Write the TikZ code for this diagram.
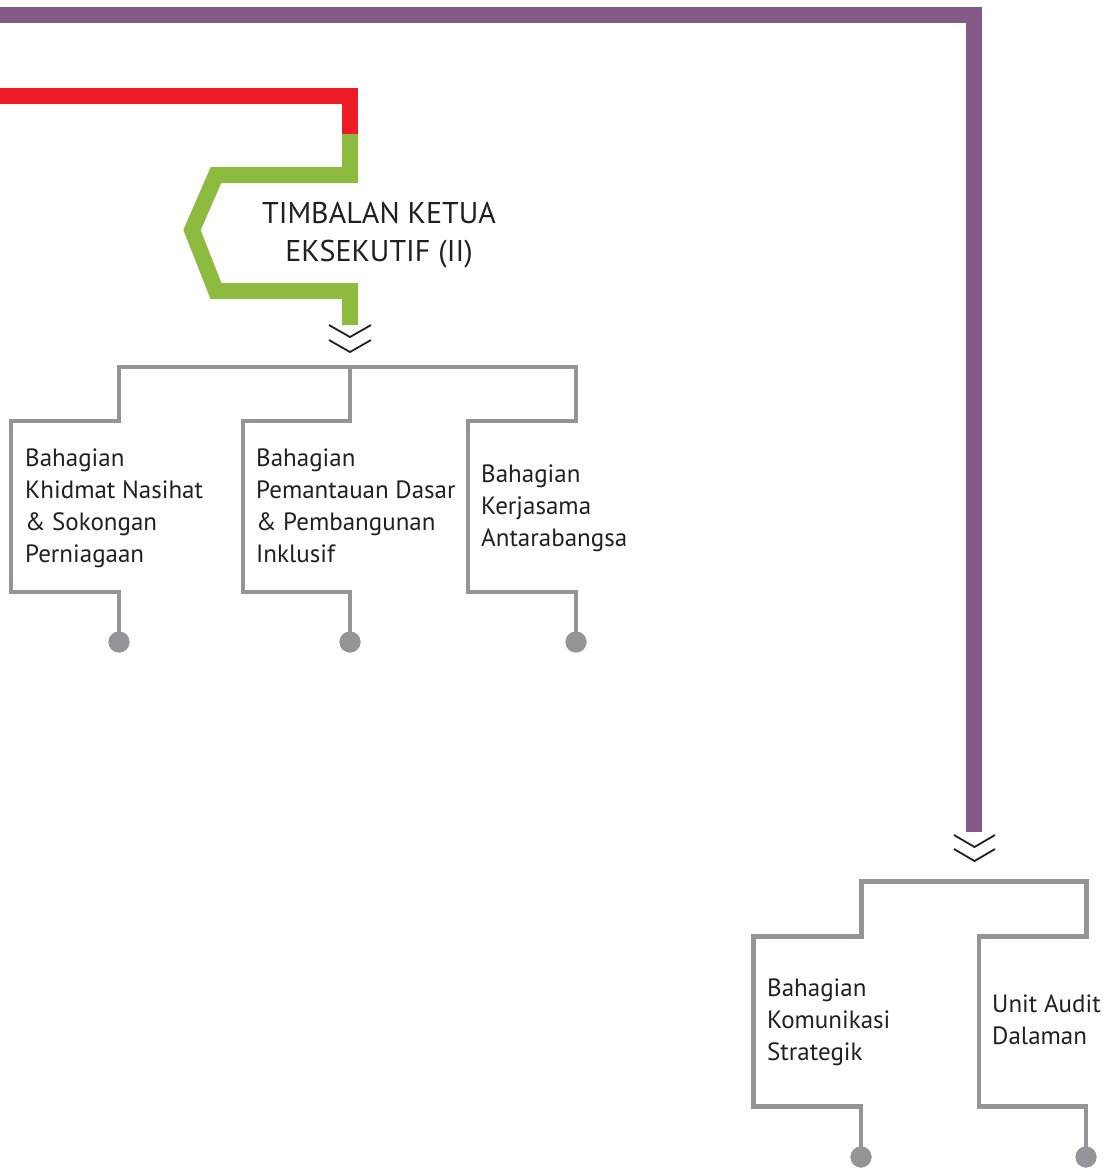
\documentclass[tikz,border=0pt]{standalone}
\usepackage{fontspec}
\setmainfont{PT Sans}
\begin{document}
\begin{tikzpicture}[x=1pt,y=-1pt,
  purpleline/.style={draw=lpurple,line width=16pt,line join=miter},
  redline/.style={draw=lred,line width=16pt,line join=miter},
  greenline/.style={draw=lgreen,line width=16pt,line join=miter},
  treeline/.style={draw=lgray,line width=4.8pt,line join=miter},
  chev/.style={draw=txtdark,line width=1.8pt,line join=miter},
  dot/.style={circle,fill=lgray,inner sep=0pt,minimum size=21pt},
  unit/.style={anchor=base west,align=left,inner sep=0pt,text=txtdark,font=\fontsize{25}{32}\selectfont},
  title/.style={anchor=base,align=center,inner sep=0pt,text=txtdark,font=\fontsize{30}{38}\selectfont}]
\definecolor{lpurple}{HTML}{845A87}
\definecolor{lred}{HTML}{ED1C24}
\definecolor{lgreen}{HTML}{8DBB3F}
\definecolor{lgray}{HTML}{939598}
\definecolor{txtdark}{HTML}{231F20}
\useasboundingbox (0,0) rectangle (1116,1168);

% coordinates
\coordinate (pstart) at (0,15);
\coordinate (pcorner) at (974,15);
\coordinate (pend) at (974,832);
\coordinate (rstart) at (0,96);
\coordinate (rend) at (350,134);
\coordinate (gend) at (350,325);

% purple and red/green lines
\draw[purpleline] (pstart) -- (pcorner) -- (pend);
\draw[redline] (rstart) -- (350,96) -- (rend);
\draw[greenline] (rend) -- (350,175) -- (216,175) -- (192,230) -- (216,291) -- (350,291) -- (gend);

% title (base anchor = baseline of last line)
\node[title] (t2) at (379,261) {TIMBALAN KETUA\\EKSEKUTIF (II)};

% chevrons
\draw[chev] (329,325) -- (350,337) -- (371,325);
\draw[chev] (329,340) -- (350,352) -- (371,340);
\draw[chev] (954,835) -- (974.5,847) -- (995,835);
\draw[chev] (954,849) -- (974.5,861) -- (995,849);

% dots
\node[dot] (d1) at (119,642) {};
\node[dot] (d2) at (350,642) {};
\node[dot] (d3) at (576,642) {};
\node[dot] (d4) at (861,1157) {};
\node[dot] (d5) at (1086,1157) {};

% tree 1
\draw[treeline] (d1.center) -- (119,592) -- (11,592) -- (11,421) -- (119,421) -- (119,367)
  -- (576,367) -- (576,421) -- (468,421) -- (468,592) -- (576,592) -- (d3.center);
\draw[treeline] (350,367) -- (350,421) -- (243,421) -- (243,592) -- (350,592) -- (d2.center);

% tree 2
\draw[treeline] (d4.center) -- (861,1106.5) -- (753.5,1106.5) -- (753.5,936.5) -- (861.5,936.5)
  -- (861.5,881.5) -- (1086.5,881.5) -- (1086.5,936.5) -- (979,936.5) -- (979,1106.5)
  -- (1086,1106.5) -- (d5.center);

% redraw dots on top
\node[dot] at (d1) {};
\node[dot] at (d2) {};
\node[dot] at (d3) {};
\node[dot] at (d4) {};
\node[dot] at (d5) {};

% texts (base anchor = baseline of last line)
\node[unit] (u1) at (25,562) {Bahagian\\Khidmat Nasihat\\\& Sokongan\\Perniagaan};
\node[unit] (u2) at (256,562) {Bahagian\\Pemantauan Dasar\\\& Pembangunan\\Inklusif};
\node[unit] (u3) at (481,546) {Bahagian\\Kerjasama\\Antarabangsa};
\node[unit] (u4) at (767,1060) {Bahagian\\Komunikasi\\Strategik};
\node[unit] (u5) at (992,1044) {Unit Audit\\Dalaman};
\end{tikzpicture}
\end{document}
